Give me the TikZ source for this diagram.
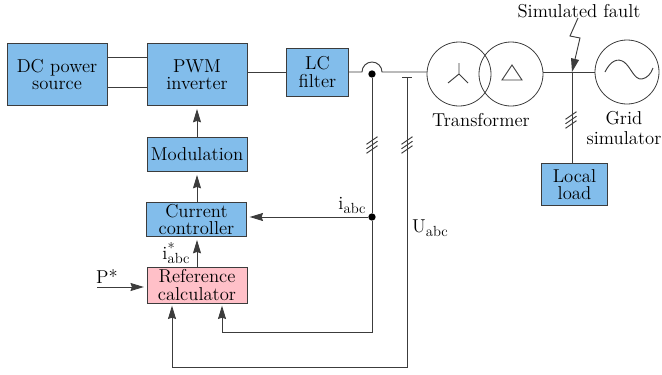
\documentclass[tikz,border=0pt]{standalone}
\usepackage{amsmath}
\usepackage{fontspec}
\usetikzlibrary{arrows.meta}

\definecolor{blockblue}{RGB}{130,189,235}
\definecolor{blockpink}{RGB}{255,192,200}
\definecolor{wiregray}{RGB}{60,60,60}

\newcommand{\TripleTick}[2]{\foreach \d in {-4.5,0,4.5} \draw[WireStyle] ([shift={(-5.5,\d+3.8)}]#1,#2) -- ([shift={(5.5,\d-3.8)}]#1,#2);}
\newcommand{\SubAbc}{\raisebox{-3pt}{\fontsize{11}{11}\selectfont abc}}

\begin{document}
\begin{tikzpicture}[x=0.75pt,y=-0.75pt]
		\tikzstyle{BoxStyle}   = [draw=wiregray,fill=blockblue,line width=0.7pt,align=center,inner sep=0pt,font=\fontsize{14}{13}\selectfont]
		\tikzstyle{CalcStyle}  = [BoxStyle,fill=blockpink]
		\tikzstyle{RingStyle}  = [draw=wiregray,circle,line width=0.6pt,minimum size=48pt,inner sep=0pt]
		\tikzstyle{TextStyle}  = [align=center,inner sep=0pt,font=\fontsize{14}{15.5}\selectfont]
		\tikzstyle{DotStyle}   = [circle,fill=black,inner sep=0pt,minimum size=5.5pt]
		\tikzstyle{WireStyle}  = [draw=wiregray,line width=0.7pt]
		\tikzstyle{ArrowStyle} = [WireStyle,-{Stealth[length=10pt,width=6pt,inset=1pt]},shorten >=2pt]

		\useasboundingbox (0,0) rectangle (662,375);

		\node[BoxStyle,minimum width=75pt,minimum height=47pt] (DCsource) at (57,74.5) {DC power\\source};
		\node[BoxStyle,minimum width=75pt,minimum height=47pt] (PWMinv) at (197,74.5) {PWM\\inverter};
		\node[BoxStyle,minimum width=46pt,minimum height=36pt] (LCfilter) at (317.5,72) {LC\\filter};
		\node[BoxStyle,minimum width=75pt,minimum height=26pt] (Modulation) at (197,154.5) {Modulation};
		\node[BoxStyle,minimum width=75pt,minimum height=26pt] (CurrentCtrl) at (196.5,219.5) {Current\\controller};
		\node[CalcStyle,minimum width=75pt,minimum height=27pt] (RefCalc) at (197,285) {Reference\\calculator};
		\node[BoxStyle,minimum width=49pt,minimum height=32pt] (LocalLoad) at (574.5,184.5) {Local\\load};

		\node[RingStyle] (XfmrY) at (459,74) {};
		\node[RingStyle] (XfmrD) at (511,74) {};
		\node[RingStyle] (GridSim) at (627,72) {};

		\node[TextStyle] (FaultText) at (579,11) {Simulated fault};
		\node[TextStyle] (XfmrText) at (481,120) {Transformer};
		\node[TextStyle] (GridText) at (624,128) {Grid\\simulator};
		\node[TextStyle] (IabcText) at (352,205) {i\SubAbc};
		\node[TextStyle] (UabcText) at (430,228) {U\SubAbc};
		\node[TextStyle] (IrefText) at (176,253) {i\rlap{\raisebox{4pt}{\fontsize{11}{11}\selectfont *}}\SubAbc};
		\node[TextStyle] (PrefText) at (107,276) {P*};

		% free ends and junctions
		\coordinate (HopIn) at (362,72);
		\coordinate (HopOut) at (382,72);
		\coordinate (Ubar) at (407,77);
		\coordinate (Pin) at (97,287);
		\coordinate (Faultpt) at (572,72);
		\coordinate (IrefEnd) at (222,303);
		\coordinate (UrefEnd) at (172,303);
		\coordinate (Fstart) at (578,18);
		\node[DotStyle] (Itop) at (372,74) {};
		\node[DotStyle] (Ijoin) at (372,217) {};

		\draw[WireStyle] (DCsource.east |- 0,57) -- (PWMinv.west |- 0,57);
		\draw[WireStyle] (DCsource.east |- 0,87) -- (PWMinv.west |- 0,87);
		\draw[WireStyle] (PWMinv.east |- LCfilter) -- (LCfilter.west);
		\draw[WireStyle] (LCfilter.east) -- (HopIn) arc[start angle=180,end angle=0,radius=7.5pt] -- (XfmrY.west |- HopOut);
		\draw[WireStyle] (XfmrD.east |- Faultpt) -- (GridSim.west |- Faultpt);

		\draw[ArrowStyle] (Modulation.north) -- (PWMinv.south);
		\draw[ArrowStyle] (CurrentCtrl.north -| Modulation) -- (Modulation.south);
		\draw[ArrowStyle] (RefCalc.north) -- (RefCalc.north |- CurrentCtrl.south);
		\draw[ArrowStyle] (Ijoin) -- (CurrentCtrl.east |- Ijoin);
		\draw[ArrowStyle] (Pin) -- (RefCalc.west |- Pin);
		\draw[WireStyle] (Itop) -- (Ijoin);
		\draw[ArrowStyle] (Ijoin) -- (Itop |- 0,332) -- (IrefEnd |- 0,332) -- (IrefEnd);
		\draw[ArrowStyle] (Ubar) -- (Ubar |- 0,367) -- (UrefEnd |- 0,367) -- (UrefEnd);
		\draw[WireStyle] ([xshift=-3.75pt]Ubar) -- ([xshift=3.75pt]Ubar);
		\draw[WireStyle] (Faultpt) -- (Faultpt |- LocalLoad.north);
		\draw[WireStyle,-{Stealth[length=10pt,width=6pt,inset=0pt]}] (Fstart) -- (570,36) -- (580,38) -- (Faultpt);

		% winding symbols
		\draw[WireStyle] (459,74) -- (459,63) (459,74) -- (448,83) (459,74) -- (468,83);
		\draw[WireStyle] (512,65) -- (502,80) -- (522,80) -- cycle;
		\draw[WireStyle] (605,72) .. controls (611,60) and (618,58) .. (624,62) .. controls (631,67) and (634,80) .. (642,79) .. controls (647,78) and (651,74) .. (653,68);

		\TripleTick{372}{145}
		\TripleTick{407}{145}
		\TripleTick{571}{120}
	\end{tikzpicture}
\end{document}
